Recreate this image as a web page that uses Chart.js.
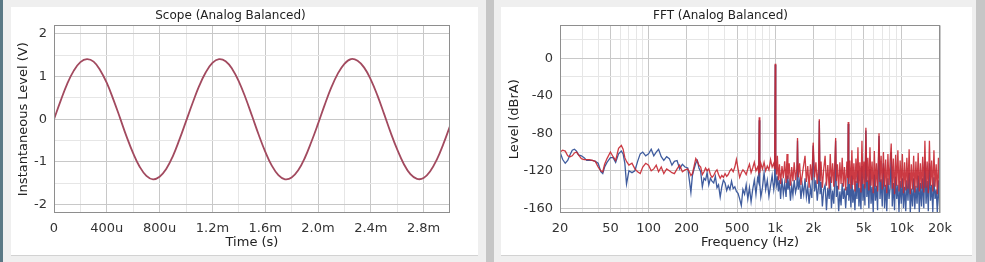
<!DOCTYPE html>
<html>
<head>
<meta charset="utf-8">
<script src="https://cdn.jsdelivr.net/npm/chart.js@4.4.1/dist/chart.umd.min.js"></script>
<style>
  body { margin:0; width:985px; height:262px; background:#efefef; position:relative; overflow:hidden; }
  .strip { position:absolute; top:0; left:0; width:3px; height:262px; background:#5a7885; }
  .split { position:absolute; top:0; height:262px; background:#c6c6c6; }
  .panel { position:absolute; top:7px; height:248px; background:#fff; border-bottom:1px solid #d2d2d2; }
  #left { left:11px; width:467px; }
  #right { left:501px; width:471px; }
  canvas { display:block; }
</style>
</head>
<body>
<div class="strip"></div>
<div class="split" style="left:486px;width:8px"></div>
<div class="split" style="left:976px;width:9px"></div>
<div class="panel" id="left"><canvas id="scope" width="467" height="248"></canvas></div>
<div class="panel" id="right"><canvas id="fft" width="471" height="248"></canvas></div>
<script>
Chart.defaults.font.family = "'DejaVu Sans', sans-serif";
Chart.defaults.color = '#333';

// scope, time in ms, level in V
const scopeTime = [0,0.05,0.1,0.15,0.2,0.25,0.3,0.35,0.4,0.45,
  0.5,0.55,0.6,0.65,0.7,0.75,0.8,0.85,0.9,0.95,
  1.0,1.05,1.1,1.15,1.2,1.25,1.3,1.35,1.4,1.45,
  1.5,1.55,1.6,1.65,1.7,1.75,1.8,1.85,1.9,1.95,
  2.0,2.05,2.1,2.15,2.2,2.25,2.3,2.35,2.4,2.45,
  2.5,2.55,2.6,2.65,2.7,2.75,2.8,2.85,2.9,2.95,3.0];
const scopeLevel = [0,0.43,0.83,1.14,1.34,1.41,1.35,1.15,0.85,0.46,
  0.03,-0.41,-0.80,-1.12,-1.33,-1.41,-1.35,-1.17,-0.87,-0.48,
  -0.05,0.38,0.78,1.10,1.32,1.41,1.36,1.18,0.89,0.51,
  0.08,-0.36,-0.76,-1.09,-1.31,-1.41,-1.37,-1.20,-0.91,-0.53,
  -0.11,0.33,0.74,1.07,1.30,1.41,1.37,1.21,0.93,0.56,
  0.13,-0.31,-0.71,-1.05,-1.29,-1.40,-1.38,-1.22,-0.95,-0.58,-0.16];
const scopeTickX = [0,0.4,0.8,1.2,1.6,2.0,2.4,2.8];
const scopeTickXLabels = ['0','400u','800u','1.2m','1.6m','2.0m','2.4m','2.8m'];
const scopeMinorX = [0.2,0.6,1.0,1.4,1.8,2.2,2.6];
const scopeTickY = [-2,-1,0,1,2];
const scopeMinorY = [-1.5,-0.5,0.5,1.5];

// fft, Hz and dBrA
const fftFreq = [20,21,22,23,24,25,26,27,28,29.5,
  31,32.5,34,36,38,40,42,43.5,45,47,
  50,52.5,55,58,61,63,65,67,70,74,
  78,82,86,90,95,100,105,110,115,120,
  126,132,139,146,153,160,168,176,185,194,
  204,210,216,222,229,236,243,250,258,266,
  274,282,290,299,308,317,327,337,347,357,
  368,379,390,402,414,426,439,452,466,480,
  494,509,524,540,556,573,590,608,626,645,
  664,684,705,726,740,748,756,770,793,817,
  841,866,892,919,946,974,990,1000,1010,
  1025,1040,1060,1080,1103,1131,1159,1188,1218,1240,
  1260,1290,1320,1350,1380,1412,1447,1483,1500,1520,
  1558,1597,1637,1678,1720,1763,1807,1852,1898,1946,
  1995,2045,2096,2148,2200,2230,2260,2300,2357,2416,
  2477,2539,2602,2667,2720,2780,2840,2900,2960,3000,
  3040,3100,3170,3240,3310,3380,3450,3520,3600,3680,
  3740,3770,3810,3880,3960,4030,4100,4180,4260,4340,
  4420,4500,4580,4660,4750,4840,4930,5020,5110,5200,
  5290,5390,5490,5600,5710,5820,5940,6060,6180,6300,
  6430,6600,6720,6860,7000,7150,7300,7450,7600,7760,
  7920,8080,8240,8400,8570,8750,8930,9110,9300,9490,
  9690,9890,10090,10300,10510,10730,10950,11180,11410,11650,
  11890,12140,12390,12650,12910,13180,13450,13730,14010,14300,
  14600,14900,15200,15520,15840,16170,16500,16840,17190,17550,
  17910,18280,18660,19050,19440,19840,20000];
const fftBlue = [-100,-108,-112,-109,-103,-98,-97,-99,-103,-104,
  -106,-109,-109,-109,-110,-112,-121,-123,-116,-111,
  -106,-106,-111,-102,-99,-102,-112,-134,-120,-122,
  -120,-110,-102,-100,-104,-102,-97,-104,-100,-97,
  -105,-109,-105,-107,-114,-110,-109,-118,-113,-116,
  -117,-130,-143,-125,-118,-112,-109,-117,-121,-137,
  -128,-130,-122,-135,-128,-131,-133,-126,-138,-135,
  -148,-137,-130,-133,-141,-136,-140,-131,-139,-137,
  -142,-144,-150,-157,-140,-145,-135,-150,-138,-153,
  -140,-130,-145,-128,-132,-66,-134,-148,-138,-122,
  -140,-130,-147,-136,-125,-140,-132,-7,-128,
  -135,-126,-142,-130,-150,-128,-145,-133,-148,-125,
  -140,-132,-152,-136,-146,-130,-143,-136,-88,-140,
  -131,-150,-135,-145,-128,-148,-137,-155,-138,-149,
  -93,-142,-130,-152,-136,-67,-145,-132,-158,-140,
  -135,-162,-138,-150,-126,-160,-141,-155,-130,-88,
  -148,-136,-163,-142,-157,-133,-150,-139,-160,-137,
  -146,-70,-152,-134,-159,-125,-154,-140,-162,-131,
  -150,-120,-158,-138,-161,-115,-152,-134,-157,-77,
  -148,-130,-160,-118,-155,-137,-164,-124,-152,-136,
  -162,-83,-150,-129,-158,-112,-160,-135,-163,-128,
  -150,-138,-100,-158,-133,-162,-126,-150,-135,-164,
  -131,-155,-128,-160,-137,-163,-130,-152,-122,-165,
  -139,-158,-128,-161,-136,-155,-125,-164,-133,-158,
  -128,-160,-110,-155,-131,-163,-112,-152,-135,-164,
  -127,-150,-140,-165,-130,-158,-140];
const fftRed = [-100,-98,-99,-104,-105,-104,-101,-100,-103,-107,
  -108,-108,-108,-109,-110,-116,-120,-121,-113,-107,
  -100,-105,-109,-96,-93,-97,-106,-110,-114,-112,
  -118,-121,-123,-116,-112,-114,-120,-118,-114,-121,
  -116,-123,-118,-120,-122,-123,-118,-114,-121,-119,
  -118,-121,-125,-123,-115,-107,-110,-114,-116,-124,
  -121,-117,-120,-118,-124,-127,-125,-121,-119,-124,
  -128,-125,-127,-123,-126,-124,-120,-118,-121,-116,
  -108,-118,-127,-122,-119,-121,-124,-118,-113,-122,
  -117,-111,-120,-116,-121,-63,-122,-112,-118,-111,
  -120,-115,-119,-108,-116,-112,-118,-6,-110,
  -124,-104,-130,-113,-134,-115,-128,-110,-133,-102,
  -129,-112,-136,-116,-131,-111,-130,-117,-85,-127,
  -112,-135,-124,-114,-104,-132,-115,-138,-113,-130,
  -90,-127,-111,-134,-116,-65,-131,-110,-138,-118,
  -104,-136,-114,-139,-102,-133,-112,-137,-108,-85,
  -131,-113,-140,-111,-134,-106,-137,-116,-141,-110,
  -128,-68,-134,-109,-139,-98,-135,-112,-142,-107,
  -133,-95,-138,-111,-143,-88,-134,-110,-139,-74,
  -132,-106,-141,-95,-136,-110,-144,-99,-137,-112,
  -142,-80,-132,-104,-140,-100,-137,-108,-144,-102,
  -135,-110,-91,-139,-107,-145,-103,-136,-98,-142,
  -109,-138,-102,-144,-111,-141,-106,-139,-97,-145,
  -113,-140,-104,-143,-110,-138,-101,-142,-112,-139,
  -105,-143,-88,-138,-110,-144,-88,-136,-109,-142,
  -98,-137,-113,-145,-106,-139,-120];
const fftTickX = [20,50,100,200,500,1000,2000,5000,10000,20000];
const fftTickXLabels = ['20','50','100','200','500','1k','2k','5k','10k','20k'];
const fftMinorX = [30,40,60,70,80,90,300,400,600,700,800,900,3000,4000,6000,7000,8000,9000];
const fftTickY = [-160,-120,-80,-40,0];
const fftMinorY = [-140,-100,-60,-20,20];

const majorGrid = '#c8c8c8';
const minorGrid = '#e6e6e6';
const isIn = (list, v) => list.some(t => Math.abs(t - v) < 1e-9);
const gridTicks = (a, b) => [...a, ...b].sort((p, q) => p - q).map(v => ({ value: v }));

const frame = {
  id: 'frame',
  afterDatasetsDraw(chart) {
    const a = chart.chartArea;
    const c = chart.ctx;
    c.save();
    c.strokeStyle = '#8e8e8e';
    c.lineWidth = 1;
    const x0 = Math.round(a.left) + 0.5, y0 = Math.round(a.top) + 0.5;
    const x1 = Math.round(a.right) - 0.5, y1 = Math.round(a.bottom) - 0.5;
    c.strokeRect(x0, y0, x1 - x0, y1 - y0);
    c.restore();
  }
};

function axisTitle(text, pad) {
  return { display: true, text: text, color: '#222', font: { size: 13 }, padding: pad };
}

new Chart(document.getElementById('scope').getContext('2d'), {
  type: 'line',
  data: {
    datasets: [{
      data: scopeTime.map((t, i) => ({ x: t, y: scopeLevel[i] })),
      borderColor: '#a24a5f',
      borderWidth: 1.8,
      pointRadius: 0,
      tension: 0.4
    }]
  },
  options: {
    responsive: false,
    animation: false,
    events: [],
    layout: { padding: { left: 0, right: 28, top: 0, bottom: 0 } },
    plugins: {
      legend: { display: false },
      tooltip: { enabled: false },
      title: { display: true, text: 'Scope (Analog Balanced)', color: '#222', font: { size: 12, weight: 'normal' }, padding: { top: 2, bottom: 2 } }
    },
    scales: {
      x: {
        type: 'linear', min: 0, max: 3,
        afterFit: s => { s.height = 42; },
        afterBuildTicks: s => { s.ticks = gridTicks(scopeTickX, scopeMinorX); },
        ticks: {
          autoSkip: false, maxRotation: 0, padding: 8, font: { size: 13 },
          callback: v => { const i = scopeTickX.findIndex(t => Math.abs(t - v) < 1e-9); return i < 0 ? '' : scopeTickXLabels[i]; }
        },
        grid: { drawTicks: false, color: c => isIn(scopeTickX, c.tick.value) ? majorGrid : minorGrid },
        border: { display: false },
        title: axisTitle('Time (s)', { top: 0, bottom: 5 })
      },
      y: {
        min: -2.2, max: 2.2,
        afterFit: s => { s.width = 43; },
        afterBuildTicks: s => { s.ticks = gridTicks(scopeTickY, scopeMinorY); },
        ticks: { autoSkip: false, padding: 7, font: { size: 13 }, callback: v => isIn(scopeTickY, v) ? String(v) : '' },
        grid: { drawTicks: false, color: c => isIn(scopeTickY, c.tick.value) ? majorGrid : minorGrid },
        border: { display: false },
        title: axisTitle('Instantaneous Level (V)', { top: 5, bottom: 0 })
      }
    }
  },
  plugins: [frame]
});

new Chart(document.getElementById('fft').getContext('2d'), {
  type: 'line',
  data: {
    datasets: [{
      label: 'Ch2',
      data: fftFreq.map((f, i) => ({ x: f, y: fftRed[i] })),
      borderColor: 'rgba(198,38,48,0.9)',
      borderWidth: 1.3,
      pointRadius: 0
    }, {
      label: 'Ch1',
      data: fftFreq.map((f, i) => ({ x: f, y: fftBlue[i] })),
      borderColor: '#3f5c9e',
      borderWidth: 1.3,
      pointRadius: 0
    }]
  },
  options: {
    responsive: false,
    animation: false,
    events: [],
    layout: { padding: { left: 0, right: 32, top: 0, bottom: 0 } },
    plugins: {
      legend: { display: false },
      tooltip: { enabled: false },
      title: { display: true, text: 'FFT (Analog Balanced)', color: '#222', font: { size: 12, weight: 'normal' }, padding: { top: 2, bottom: 2 } }
    },
    scales: {
      x: {
        type: 'logarithmic', min: 20, max: 20000,
        afterFit: s => { s.height = 42; },
        afterBuildTicks: s => { s.ticks = gridTicks(fftTickX, fftMinorX); },
        ticks: {
          autoSkip: false, maxRotation: 0, padding: 8, font: { size: 13 },
          callback: v => { const i = fftTickX.indexOf(v); return i < 0 ? '' : fftTickXLabels[i]; }
        },
        grid: { drawTicks: false, color: c => isIn(fftTickX, c.tick.value) ? majorGrid : minorGrid },
        border: { display: false },
        title: axisTitle('Frequency (Hz)', { top: 0, bottom: 5 })
      },
      y: {
        min: -165, max: 35,
        afterFit: s => { s.width = 59; },
        afterBuildTicks: s => { s.ticks = gridTicks(fftTickY, fftMinorY); },
        ticks: { autoSkip: false, padding: 7, font: { size: 13 }, callback: v => isIn(fftTickY, v) ? String(v) : '' },
        grid: { drawTicks: false, color: c => isIn(fftTickY, c.tick.value) ? majorGrid : minorGrid },
        border: { display: false },
        title: axisTitle('Level (dBrA)', { top: 6, bottom: 0 })
      }
    }
  },
  plugins: [frame]
});
</script>
</body>
</html>
